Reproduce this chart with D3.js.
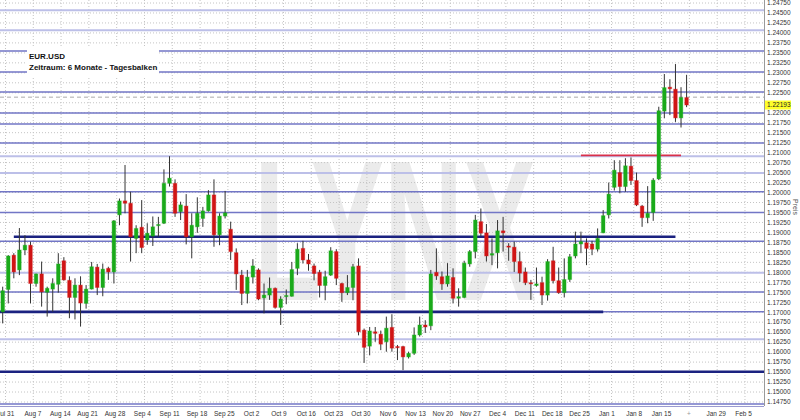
<!DOCTYPE html>
<html><head><meta charset="utf-8">
<script src="https://cdn.jsdelivr.net/npm/d3@7"></script>
<style>body{margin:0;background:#fff}svg{display:block;font-family:"Liberation Sans",Arial,sans-serif}</style>
</head><body><svg id="c" width="800" height="420"></svg>
<script>
// ---------- data ----------
const dates = ["07-28","07-31","08-01","08-02","08-03","08-04","08-07","08-08","08-09","08-10","08-11",
"08-14","08-15","08-16","08-17","08-18","08-21","08-22","08-23","08-24","08-25",
"08-28","08-29","08-30","08-31","09-01","09-04","09-05","09-06","09-07","09-08",
"09-11","09-12","09-13","09-14","09-15","09-18","09-19","09-20","09-21","09-22",
"09-25","09-26","09-27","09-28","09-29","10-02","10-03","10-04","10-05","10-06",
"10-09","10-10","10-11","10-12","10-13","10-16","10-17","10-18","10-19","10-20",
"10-23","10-24","10-25","10-26","10-27","10-30","10-31","11-01","11-02","11-03",
"11-06","11-07","11-08","11-09","11-10","11-13","11-14","11-15","11-16","11-17",
"11-20","11-21","11-22","11-23","11-24","11-27","11-28","11-29","11-30","12-01",
"12-04","12-05","12-06","12-07","12-08","12-11","12-12","12-13","12-14","12-15",
"12-18","12-19","12-20","12-21","12-22","12-26","12-27","12-28","12-29",
"01-02","01-03","01-04","01-05","01-08","01-09","01-10","01-11","01-12",
"01-15","01-16","01-17","01-18","01-19"];
const open = [1.1701,1.1757,1.1843,1.1806,1.1856,1.1868,1.1772,1.1796,1.1750,1.1758,1.1770,
1.1829,1.1780,1.1737,1.1768,1.1722,1.1758,1.1813,1.1762,1.1810,1.1801,
1.1944,1.1979,1.1973,1.1885,1.1913,1.1881,1.1891,1.1917,1.1923,1.2023,
1.2023,1.1952,1.1966,1.1889,1.1914,1.1935,1.1954,1.1994,1.1894,1.1941,
1.1908,1.1849,1.1793,1.1747,1.1788,1.1806,1.1736,1.1743,1.1760,1.1712,
1.1739,1.1740,1.1810,1.1860,1.1831,1.1816,1.1800,1.1767,1.1793,1.1852,
1.1772,1.1749,1.1762,1.1816,1.1655,1.1615,1.1651,1.1645,1.1626,1.1662,
1.1614,1.1614,1.1588,1.1597,1.1643,1.1668,1.1666,1.1800,1.1789,1.1771,
1.1787,1.1735,1.1737,1.1821,1.1852,1.1927,1.1899,1.1843,1.1849,1.1904,
1.1866,1.1863,1.1827,1.1801,1.1774,1.1767,1.1774,1.1743,1.1829,1.1779,
1.1749,1.1782,1.1841,1.1871,1.1874,1.1871,1.1858,1.1899,1.1944,
1.2013,1.2050,1.2015,1.2066,1.2030,1.1966,1.1937,1.1950,1.2034,
1.2204,1.2264,1.2259,1.2187,1.2238];
const high = [1.1764,1.1843,1.1848,1.1911,1.1893,1.1877,1.1797,1.1827,1.1764,1.1785,1.1848,
1.1838,1.1790,1.1785,1.1790,1.1768,1.1826,1.1821,1.1822,1.1814,1.1931,
1.1985,1.2069,1.2002,1.1918,1.1981,1.1923,1.1940,1.1939,1.2058,1.2091,
1.2033,1.1977,1.1996,1.1948,1.1988,1.1964,1.2006,1.2033,1.1948,1.2004,
1.1927,1.1860,1.1806,1.1806,1.1833,1.1810,1.1772,1.1787,1.1762,1.1740,
1.1757,1.1826,1.1873,1.1879,1.1846,1.1822,1.1806,1.1804,1.1863,1.1858,
1.1774,1.1793,1.1821,1.1835,1.1659,1.1663,1.1663,1.1654,1.1689,1.1695,
1.1618,1.1616,1.1601,1.1662,1.1689,1.1680,1.1806,1.1860,1.1802,1.1823,
1.1810,1.1760,1.1829,1.1856,1.1944,1.1960,1.1921,1.1885,1.1931,1.1939,
1.1873,1.1877,1.1852,1.1812,1.1781,1.1812,1.1789,1.1833,1.1864,1.1812,
1.1835,1.1846,1.1902,1.1902,1.1885,1.1879,1.1910,1.1956,1.2025,
1.2081,1.2081,1.2086,1.2088,1.2050,1.1969,1.2016,1.2036,1.2215,
1.2297,1.2284,1.2322,1.2264,1.2295];
const low = [1.1672,1.1722,1.1785,1.1793,1.1843,1.1722,1.1764,1.1714,1.1689,1.1701,1.1749,
1.1779,1.1685,1.1682,1.1664,1.1709,1.1757,1.1743,1.1740,1.1781,1.1772,
1.1918,1.1948,1.1827,1.1848,1.1848,1.1869,1.1866,1.1889,1.1921,1.2015,
1.1939,1.1931,1.1870,1.1835,1.1899,1.1914,1.1952,1.1864,1.1868,1.1935,
1.1831,1.1756,1.1718,1.1722,1.1772,1.1730,1.1697,1.1731,1.1709,1.1668,
1.1720,1.1739,1.1793,1.1822,1.1804,1.1780,1.1737,1.1730,1.1791,1.1768,
1.1726,1.1743,1.1730,1.1642,1.1573,1.1592,1.1626,1.1605,1.1601,1.1601,
1.1580,1.1555,1.1584,1.1593,1.1639,1.1648,1.1655,1.1781,1.1756,1.1764,
1.1722,1.1714,1.1735,1.1814,1.1835,1.1891,1.1827,1.1818,1.1810,1.1852,
1.1829,1.1801,1.1776,1.1768,1.1731,1.1764,1.1718,1.1729,1.1772,1.1746,
1.1737,1.1776,1.1835,1.1848,1.1818,1.1843,1.1852,1.1898,1.1935,
1.2005,1.1998,1.2002,1.2019,1.1966,1.1914,1.1923,1.1929,1.2031,
1.2186,1.2194,1.2177,1.2163,1.2214];
const close = [1.1754,1.1841,1.1801,1.1856,1.1868,1.1772,1.1796,1.1751,1.1760,1.1772,1.1821,
1.1781,1.1737,1.1768,1.1723,1.1758,1.1814,1.1762,1.1808,1.1801,1.1929,
1.1979,1.1973,1.1889,1.1910,1.1862,1.1898,1.1914,1.1920,1.2023,1.2036,
1.1948,1.1969,1.1889,1.1918,1.1948,1.1954,1.1994,1.1894,1.1941,1.1949,
1.1852,1.1796,1.1747,1.1788,1.1816,1.1733,1.1743,1.1760,1.1712,1.1733,
1.1742,1.1807,1.1858,1.1831,1.1821,1.1797,1.1767,1.1789,1.1854,1.1785,
1.1749,1.1762,1.1814,1.1651,1.1612,1.1653,1.1647,1.1620,1.1660,1.1610,
1.1611,1.1588,1.1597,1.1643,1.1668,1.1663,1.1796,1.1791,1.1771,1.1791,
1.1735,1.1739,1.1823,1.1852,1.1931,1.1898,1.1841,1.1847,1.1904,1.1899,
1.1863,1.1827,1.1798,1.1774,1.1771,1.1771,1.1743,1.1827,1.1779,1.1749,
1.1782,1.1839,1.1871,1.1877,1.1860,1.1858,1.1885,1.1942,1.1996,
1.2056,1.2015,1.2067,1.2030,1.1969,1.1937,1.1948,1.2031,1.2205,
1.2263,1.2260,1.2187,1.2238,1.22193];
const futureDates = ["01-22","01-23","01-24","01-25","01-26","01-29","01-30","01-31","02-01","02-02","02-05","02-06","02-07","02-08","02-09"];
// first trading day of each week (for the weekly grid) and the calendar Monday used for its label
const weekStart = ["07-31","08-07","08-14","08-21","08-28","09-04","09-11","09-18","09-25","10-02","10-09","10-16","10-23","10-30",
"11-06","11-13","11-20","11-27","12-04","12-11","12-18","12-26","01-02","01-08","01-15","01-22","01-29","02-05"];
const weekMonday = ["2017-07-31","2017-08-07","2017-08-14","2017-08-21","2017-08-28","2017-09-04","2017-09-11","2017-09-18",
"2017-09-25","2017-10-02","2017-10-09","2017-10-16","2017-10-23","2017-10-30","2017-11-06","2017-11-13","2017-11-20",
"2017-11-27","2017-12-04","2017-12-11","2017-12-18","2017-12-25","2018-01-01","2018-01-08","2018-01-15","2018-01-22",
"2018-01-29","2018-02-05"];
const weekLabel = ["Jul 31","Aug 7","Aug 14","Aug 21","Aug 28","Sep 4","Sep 11","Sep 18","Sep 25","Oct 2","Oct 9","Oct 16","Oct 23","Oct 30",
"Nov 6","Nov 13","Nov 20","Nov 27","Dec 4","Dec 11","Dec 18","Dec 25","Jan 1","Jan 8","Jan 15","+","Jan 29","Feb 5"];
const priceTicks = [1.1475,1.1500,1.1525,1.1550,1.1575,1.1600,1.1625,1.1650,1.1675,1.1700,1.1725,1.1750,1.1775,1.1800,
1.1825,1.1850,1.1875,1.1900,1.1925,1.1950,1.1975,1.2000,1.2025,1.2050,1.2075,1.2100,1.2125,1.2150,1.2175,1.2200,
1.2225,1.2250,1.2275,1.2300,1.2325,1.2350,1.2375,1.2400,1.2425,1.2450,1.2475];
const mediumLevels = [1.2355,1.2302,1.2252,1.2199,1.2172,1.2124,1.2002,1.1950,1.1878,1.1751,1.1701,1.1470];
const lightLevels = [1.2457,1.2407,1.2091,1.2049,1.1799,1.1632];
const navyLevels = [1.1889,1.1701,1.1551];
const navyFrom = ["08-01",null,null];
const navyTo = ["01-17","12-28",null];
const redLevel = 1.2093, redFrom = "12-21", redTo = "01-18";
const lastOpenLevel = 1.2239;
const lastPrice = 1.22193;
const title1 = "EUR.USD", title2 = "Zeitraum: 6 Monate - Tagesbalken";

// ---------- layout ----------
const svg = d3.select("#c");
const plotR = 764, plotB = 404;
const allDates = dates.concat(futureDates);
const step = 5.56;
const x = d3.scalePoint().domain(allDates).range([2.7, 2.7 + step*(allDates.length-1)]);
const y = d3.scaleLinear().domain([1.1475,1.2475]).range([402,3]);
const parse = d3.timeParse("%Y-%m-%d");
const xCal = d3.scaleTime().domain([parse("2017-08-07"), parse("2018-02-05")]).range([33, 743.5]);
const fmt = d3.format(".5f");

svg.append("rect").attr("width",800).attr("height",420).attr("fill","#fff");
svg.append("defs").append("clipPath").attr("id","clip").append("rect").attr("x",0).attr("y",0).attr("width",plotR).attr("height",plotB+3);

// watermark
svg.append("text").attr("x",395).attr("y",300).attr("text-anchor","middle")
  .attr("font-size",200).attr("font-weight","bold").attr("textLength",282).attr("lengthAdjust","spacingAndGlyphs")
  .attr("fill","#ebebeb").text("LYNX");

const g = svg.append("g").attr("clip-path","url(#clip)");
// dotted grid
g.selectAll(".hg").data(priceTicks).enter().append("line")
  .attr("x1",0).attr("x2",plotR).attr("y1",d=>y(d)).attr("y2",d=>y(d))
  .attr("stroke","#c4c4c4").attr("stroke-width",1).attr("stroke-dasharray","1,2");
svg.selectAll(".hg2").data(priceTicks).enter().append("line")
  .attr("x1",plotR).attr("x2",767).attr("y1",d=>y(d)).attr("y2",d=>y(d))
  .attr("stroke","#c4c4c4").attr("stroke-width",1).attr("stroke-dasharray","1,2");
const gx = d => x(d) - step/2;
g.selectAll(".vg").data(weekStart).enter().append("line")
  .attr("x1",d=>gx(d)).attr("x2",d=>gx(d)).attr("y1",0).attr("y2",plotB)
  .attr("stroke","#c4c4c4").attr("stroke-width",1).attr("stroke-dasharray","1,2");

// level lines
g.selectAll(".ll").data(lightLevels).enter().append("line")
  .attr("x1",0).attr("x2",plotR).attr("y1",d=>y(d)).attr("y2",d=>y(d))
  .attr("stroke","#bcbfe8").attr("stroke-width",2);
g.selectAll(".ml").data(mediumLevels).enter().append("line")
  .attr("x1",0).attr("x2",plotR).attr("y1",d=>y(d)).attr("y2",d=>y(d))
  .attr("stroke","#7276c6").attr("stroke-width",1.5);
g.selectAll(".nl").data(navyLevels).enter().append("line")
  .attr("x1",(d,i)=>navyFrom[i]?x(navyFrom[i]):0).attr("x2",(d,i)=>navyTo[i]?x(navyTo[i]):plotR)
  .attr("y1",d=>y(d)).attr("y2",d=>y(d))
  .attr("stroke","#1b2280").attr("stroke-width",2.6);
g.append("line").attr("x1",x(redFrom)).attr("x2",x(redTo)).attr("y1",y(redLevel)).attr("y2",y(redLevel))
  .attr("stroke","#d9304a").attr("stroke-width",1.6);
g.append("line").attr("x1",0).attr("x2",plotR).attr("y1",y(lastOpenLevel)).attr("y2",y(lastOpenLevel))
  .attr("stroke","#aaaaaa").attr("stroke-width",1).attr("stroke-dasharray","4,3");

// legend box
svg.append("rect").attr("x",27).attr("y",46).attr("width",132).attr("height",30).attr("fill","#fff");
svg.append("text").attr("x",29).attr("y",59).attr("font-size",8).attr("font-weight","bold").attr("fill","#111").text(title1);
svg.append("text").attr("x",29).attr("y",70).attr("font-size",8).attr("font-weight","bold").attr("fill","#111").text(title2);

// candles
const bars = dates.map((d,i)=>({d,o:open[i],h:high[i],l:low[i],c:close[i]}));
const cg = g.append("g");
cg.selectAll(".w").data(bars).enter().append("line")
  .attr("x1",b=>x(b.d)).attr("x2",b=>x(b.d)).attr("y1",b=>y(b.h)).attr("y2",b=>y(b.l))
  .attr("stroke","#333").attr("stroke-width",1);
cg.selectAll(".b").data(bars).enter().append("rect")
  .attr("x",b=>x(b.d)-1.8).attr("width",3.6)
  .attr("y",b=>y(Math.max(b.o,b.c)))
  .attr("height",b=>Math.max(1.2, Math.abs(y(b.o)-y(b.c))))
  .attr("fill",b=>b.c>=b.o?"#1aaa1a":"#d01515")
  .attr("stroke",b=>b.c>=b.o?"rgba(26,170,26,0.35)":"rgba(208,21,21,0.35)").attr("stroke-width",1);

// axes
svg.append("line").attr("x1",plotR+0.5).attr("x2",plotR+0.5).attr("y1",0).attr("y2",plotB+2).attr("stroke","#9a9a9a");
svg.append("line").attr("x1",0).attr("x2",plotR).attr("y1",plotB+2.5).attr("y2",plotB+2.5).attr("stroke","#9a9ad0");
const shownTicks = priceTicks.filter(d => Math.abs(y(d) - y(lastPrice)) > 6);
svg.selectAll(".yl").data(shownTicks).enter().append("text")
  .attr("x",767).attr("y",d=>y(d)).attr("dy","0.35em").attr("font-size",6.5).attr("fill","#333").text(d=>fmt(d));
svg.append("rect").attr("x",765).attr("y",y(lastPrice)-4.5).attr("width",26).attr("height",9).attr("fill","#ffff2a");
svg.append("text").attr("x",767).attr("y",y(lastPrice)).attr("dy","0.35em").attr("font-size",6.5).attr("fill","#222").text(fmt(lastPrice));
svg.append("text").attr("transform","translate(793,207) rotate(90)").attr("text-anchor","middle")
  .attr("font-size",7).attr("fill","#555").text("Preis");
svg.selectAll(".xl").data(weekMonday).enter().append("text")
  .attr("x",d=>xCal(parse(d))).attr("y",416).attr("text-anchor","middle").attr("font-size",6.5)
  .attr("fill",(d,i)=>weekLabel[i]==="+"?"#999":"#333").text((d,i)=>weekLabel[i]);
</script></body></html>
